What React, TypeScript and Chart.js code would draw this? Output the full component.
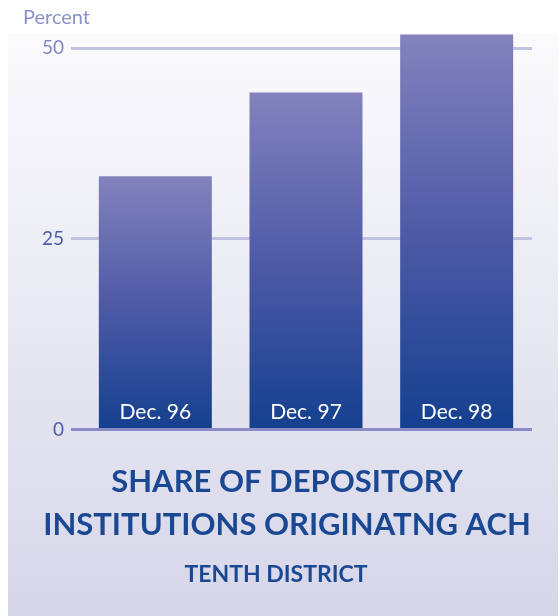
import React, { useEffect, useRef } from "react";
import { Chart, registerables } from "chart.js";

Chart.register(...registerables);

const categories = ["Dec. 96", "Dec. 97", "Dec. 98"];
const shareValues = [33.2, 44.2, 51.8];
const yTickValues = [0, 25, 50];
const yAxisTitle = "Percent";
const titleLines = ["SHARE OF DEPOSITORY", "INSTITUTIONS ORIGINATNG ACH"];
const subtitleText = "TENTH DISTRICT";

const FONT = "Lato, 'Open Sans', sans-serif";
const W = 550;
const H = 608;

const decorPlugin = {
  id: "decor",
  beforeDraw(chart: any) {
    const { ctx } = chart;
    ctx.save();
    ctx.fillStyle = "#ffffff";
    ctx.fillRect(0, 0, W, H);
    const g = ctx.createLinearGradient(0, 25, 0, H);
    g.addColorStop(0, "#fbfbfd");
    g.addColorStop(1, "#d6d6e9");
    ctx.fillStyle = g;
    ctx.fillRect(0, 25, W, H - 25);
    ctx.restore();
  },
  afterDatasetsDraw(chart: any) {
    const { ctx } = chart;
    const meta = chart.getDatasetMeta(0);
    ctx.save();
    ctx.fillStyle = "#ffffff";
    ctx.font = `21px ${FONT}`;
    ctx.textAlign = "center";
    ctx.textBaseline = "alphabetic";
    meta.data.forEach((bar: any, i: number) => {
      ctx.fillText(categories[i], bar.x, bar.base - 9);
    });
    ctx.restore();
  },
  afterDraw(chart: any) {
    const { ctx } = chart;
    ctx.save();
    ctx.fillStyle = "#8a90c8";
    ctx.font = `20px ${FONT}`;
    ctx.textAlign = "left";
    ctx.textBaseline = "alphabetic";
    ctx.fillText(yAxisTitle, 15, 16);

    ctx.fillStyle = "#1b4893";
    ctx.textAlign = "center";
    ctx.font = `bold 31px ${FONT}`;
    ctx.fillText(titleLines[0], 279, 484);
    ctx.fillText(titleLines[1], 279, 527);
    ctx.font = `bold 23px ${FONT}`;
    ctx.fillText(subtitleText, 268, 574);
    ctx.restore();
  },
};

export default function App() {
  const ref = useRef<HTMLCanvasElement | null>(null);
  useEffect(() => {
    if (!ref.current) return;
    const chart = new Chart(ref.current, {
      type: "bar",
      data: {
        labels: categories,
        datasets: [
          {
            data: shareValues,
            barPercentage: 0.75,
            categoryPercentage: 1,
            borderWidth: 0,
            backgroundColor: (c: any) => {
              const ch = c.chart;
              const y = ch.scales?.y;
              if (!y || c.raw == null) return "#4a56a4";
              const top = y.getPixelForValue(c.raw);
              const base = y.getPixelForValue(0);
              if (!isFinite(top) || !isFinite(base) || top === base) return "#4a56a4";
              const g = ch.ctx.createLinearGradient(0, top, 0, base);
              g.addColorStop(0, "#8382bd");
              g.addColorStop(0.5, "#4f5aa6");
              g.addColorStop(1, "#14408f");
              return g;
            },
          },
        ],
      },
      options: {
        responsive: false,
        animation: false,
        layout: { padding: { top: 25, bottom: 186.5, left: 0, right: 26 } },
        plugins: {
          legend: { display: false },
          tooltip: { enabled: false },
          title: { display: false },
        },
        scales: {
          x: { display: false },
          y: {
            min: 0,
            max: 52,
            afterBuildTicks: (scale: any) => {
              scale.ticks = yTickValues.map((v) => ({ value: v }));
            },
            afterFit: (scale: any) => {
              scale.width = 72;
            },
            border: { display: false },
            grid: {
              drawTicks: true,
              tickLength: 9,
              lineWidth: 3,
              color: (c: any) => (c.tick && c.tick.value === 0 ? "#8a8ac6" : "#c2c2e1"),
            },
            ticks: {
              padding: 7,
              font: { family: FONT, size: 19 },
              color: (c: any) => (c.tick && c.tick.value === 50 ? "#8088c4" : "#4a5ea8"),
            },
          },
        },
      },
      plugins: [decorPlugin],
    });
    return () => chart.destroy();
  }, []);
  return (
    <div style={{ position: "fixed", left: 8, top: 8, width: W, height: H }}>
      <canvas ref={ref} width={W} height={H} style={{ width: W, height: H, display: "block" }} />
    </div>
  );
}
